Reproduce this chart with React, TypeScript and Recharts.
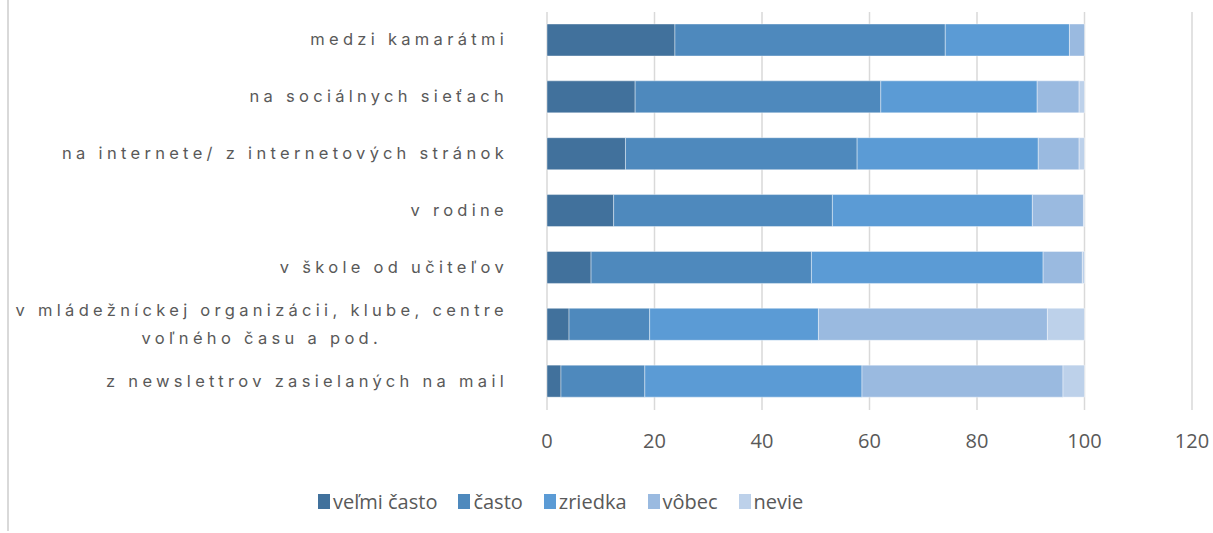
import { BarChart, Bar, XAxis, YAxis, CartesianGrid, Legend } from "recharts";

const categories = [
  "medzi kamarátmi",
  "na sociálnych sieťach",
  "na internete/ z internetových stránok",
  "v rodine",
  "v škole od učiteľov",
  "v mládežníckej organizácii, klube, centre voľného času a pod.",
  "z newslettrov zasielaných na mail",
];

const velmiCasto = [23.8, 16.4, 14.6, 12.4, 8.2, 4.1, 2.6];
const casto = [50.3, 45.7, 43.1, 40.7, 41.0, 15.0, 15.6];
const zriedka = [23.1, 29.1, 33.7, 37.2, 43.1, 31.4, 40.4];
const vobec = [2.8, 7.8, 7.6, 9.5, 7.3, 42.6, 37.4];
const nevie = [0, 1.0, 1.0, 0.2, 0.4, 6.9, 4.0];

const xTicks = [0, 20, 40, 60, 80, 100, 120];

const series = [
  { key: "velmi", name: "veľmi často", color: "#41719C", values: velmiCasto },
  { key: "casto", name: "často", color: "#4E89BD", values: casto },
  { key: "zriedka", name: "zriedka", color: "#5B9BD5", values: zriedka },
  { key: "vobec", name: "vôbec", color: "#9ABAE0", values: vobec },
  { key: "nevie", name: "nevie", color: "#BDD1EA", values: nevie },
];

const data = categories.map((name, i) => {
  const row: Record<string, string | number> = { name };
  series.forEach((s) => (row[s.key] = s.values[i]));
  return row;
});

const LABEL_SIZE = 16.5;
const LABEL_FONT = `${LABEL_SIZE}px Inter, sans-serif`;
const LABEL_SPACING = 4.3;

const wrap = (text: string, max: number) => {
  const words = text.split(" ");
  const lines: string[] = [];
  let cur = "";
  words.forEach((w) => {
    const next = cur ? cur + " " + w : w;
    if (next.length > max && cur) {
      lines.push(cur);
      cur = w;
    } else cur = next;
  });
  if (cur) lines.push(cur);
  return lines;
};

let ctx: CanvasRenderingContext2D | null = null;
const measure = (t: string) => {
  if (!ctx) ctx = document.createElement("canvas").getContext("2d");
  if (!ctx) return t.length * 12;
  ctx.font = LABEL_FONT;
  return ctx.measureText(t).width + t.length * LABEL_SPACING;
};

const CategoryTick = ({ x, y, payload }: any) => {
  const lines = wrap(payload.value, 42);
  const style = { fontFamily: "Inter, sans-serif", fontSize: LABEL_SIZE, letterSpacing: LABEL_SPACING };
  if (lines.length === 1) {
    return (
      <text x={x} y={y} dy={5} textAnchor="end" fill="#595959" style={style}>
        {lines[0]}
      </text>
    );
  }
  const w = Math.max(...lines.map(measure));
  const cx = x - w / 2;
  return (
    <text x={cx} y={y} textAnchor="middle" fill="#595959" style={style}>
      {lines.map((l, i) => (
        <tspan key={i} x={cx} dy={i === 0 ? -9 : 28}>
          {l}
        </tspan>
      ))}
    </text>
  );
};

const LegendContent = () => (
  <div style={{ display: "flex", gap: 21, fontFamily: "Open Sans, sans-serif", fontSize: 20, color: "#595959" }}>
    {series.map((s) => (
      <div key={s.key} style={{ display: "flex", alignItems: "center", gap: 3 }}>
        <span style={{ width: 12, height: 15, background: s.color, display: "inline-block" }} />
        <span>{s.name}</span>
      </div>
    ))}
  </div>
);

export default function App() {
  return (
    <div style={{ position: "fixed", left: 0, top: 0, width: 1213, height: 533, background: "#fff" }}>
      <div style={{ position: "absolute", left: 7, top: 0, width: 2, height: 531, background: "#D9D9D9" }} />
      <BarChart
        width={1213}
        height={533}
        data={data}
        layout="vertical"
        margin={{ top: 12, right: 21, bottom: 18, left: 0 }}
        barSize={32}
      >
        <CartesianGrid horizontal={false} stroke="#D9D9D9" strokeWidth={1.5} />
        <XAxis
          type="number"
          domain={[0, 120]}
          ticks={xTicks}
          axisLine={false}
          tickLine={false}
          tickMargin={18}
          height={78}
          tick={{ fill: "#595959", fontSize: 20, fontFamily: "Open Sans, sans-serif" }}
        />
        <YAxis
          type="category"
          dataKey="name"
          width={547}
          axisLine={false}
          tickLine={false}
          tickMargin={33}
          tick={<CategoryTick />}
        />
        <Legend
          verticalAlign="bottom"
          content={<LegendContent />}
          wrapperStyle={{ left: 318, width: "auto", bottom: 18 }}
        />
        {series.map((s) => (
          <Bar
            key={s.key}
            dataKey={s.key}
            name={s.name}
            stackId="a"
            fill={s.color}
            stroke="#ffffff"
            strokeWidth={0.8}
            strokeOpacity={0.5}
            isAnimationActive={false}
          />
        ))}
      </BarChart>
    </div>
  );
}
